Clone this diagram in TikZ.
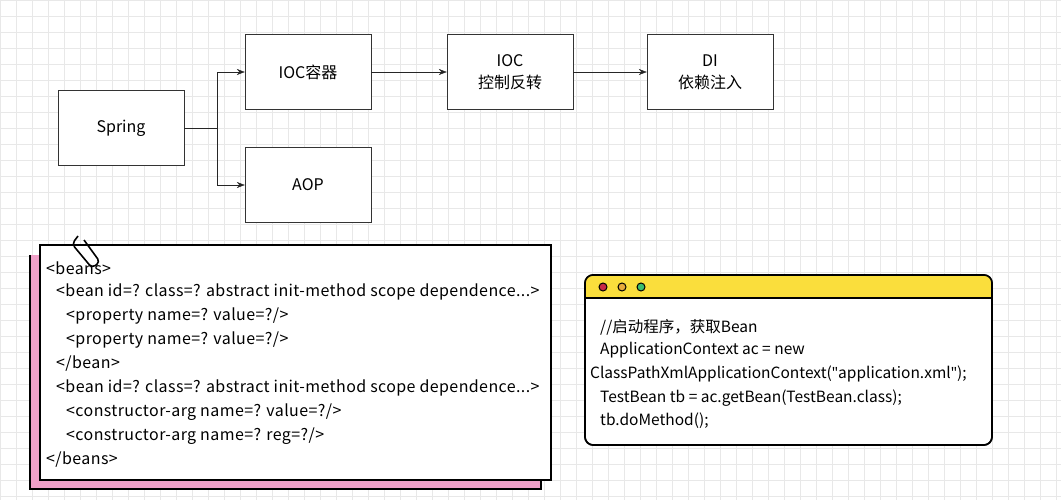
\documentclass[tikz,border=0pt]{standalone}
\usepackage{fontspec}
\setmainfont{Noto Sans CJK SC}
\newfontfamily\latinfont{Noto Sans}
\usetikzlibrary{arrows.meta}

\definecolor{gridgray}{RGB}{232,232,232}
\definecolor{cardpink}{RGB}{240,160,200}
\definecolor{baryellow}{RGB}{250,222,60}
\definecolor{dotred}{RGB}{200,40,70}
\definecolor{dotorange}{RGB}{230,170,60}
\definecolor{dotgreen}{RGB}{60,190,110}

\newcommand{\dq}{{\latinfont\char34}}

\tikzset{
  box/.style={draw=black!80, fill=white, minimum width=126pt, minimum height=75pt, align=center, font=\fontsize{16}{22}\selectfont},
  link/.style={draw=black!85, -{Stealth[length=8pt,width=6pt]}},
  codeline/.style={anchor=west, inner sep=0pt, font=\fontsize{15.5}{18}\selectfont},
  xmlline/.style={codeline, font=\fontsize{16}{18}\selectfont\addfontfeatures{LetterSpace=2.5}},
  dot/.style={circle, draw=black, line width=1pt, minimum size=8pt, inner sep=0pt}
}

\begin{document}
\begin{tikzpicture}[x=1pt, y=-1pt]

% 背景网格
\useasboundingbox (0,0) rectangle (1061,500);
\fill[white] (0,0) rectangle (1061,500);
\draw[gridgray, step=16pt] (0,0) grid (1061,500);

% 上方结构图
\node[box] (spring) at (121,128) {Spring};
\node[box] (ioc) at (308,72) {IOC容器};
\node[box] (ctrl) at (510,72) {IOC\\控制反转};
\node[box] (di) at (710,72) {DI\\依赖注入};
\node[box] (aop) at (308,185) {AOP};

\coordinate (fork) at (217,128);
\draw[draw=black!85] (spring.east) -- (fork);
\draw[link] (fork) |- (ioc.west);
\draw[link] (fork) |- (aop.west);
\draw[link] (ioc) -- (ctrl);
\draw[link] (ctrl) -- (di);

% 配置文件卡片
\fill[cardpink] (30,255) rectangle (541,489);
\draw[line width=1.8pt] (30,255) -- (30,489) -- (541,489) -- (541,480);
\draw[line width=1.8pt, fill=white] (40,245) rectangle (551,480);
\draw[line width=1.6pt, rounded corners=4pt] (78,236) -- (72,244) -- (92,268) -- (100,262) -- (84,240);

\node[xmlline] (l1) at (46,268) {<beans>};
\node[xmlline] (l2) at (56,292) {<bean id=? class=? abstract init-method scope dependence...>};
\node[xmlline] (l3) at (66,316) {<property name=? value=?/>};
\node[xmlline] (l4) at (66,340) {<property name=? value=?/>};
\node[xmlline] (l5) at (56,364) {</bean>};
\node[xmlline] (l6) at (56,388) {<bean id=? class=? abstract init-method scope dependence...>};
\node[xmlline] (l7) at (66,412) {<constructor-arg name=? value=?/>};
\node[xmlline] (l8) at (66,436) {<constructor-arg name=? reg=?/>};
\node[xmlline] (l9) at (46,460) {</beans>};

% 代码窗口
\draw[line width=1.6pt, fill=white, rounded corners=8pt] (585,275) rectangle (992,445);
\begin{scope}
  \clip[rounded corners=8pt] (585,275) rectangle (992,445);
  \fill[baryellow] (585,275) rectangle (992,298);
\end{scope}
\draw[line width=1.6pt] (585,298) -- (992,298);
\draw[line width=1.6pt, rounded corners=8pt] (585,275) rectangle (992,445);
\node[dot, fill=dotred] (d1) at (603,287) {};
\node[dot, fill=dotorange] (d2) at (622,287) {};
\node[dot, fill=dotgreen] (d3) at (641,287) {};

\node[codeline] (c1) at (600,327) {//启动程序，获取Bean};
\node[codeline] (c2) at (600,350) {ApplicationContext ac = new};
\node[codeline] (c3) at (590,374) {ClassPathXmlApplicationContext(\dq application.xml\dq);};
\node[codeline] (c4) at (600,398) {TestBean tb = ac.getBean(TestBean.class);};
\node[codeline] (c5) at (600,421) {tb.doMethod();};

\end{tikzpicture}
\end{document}
